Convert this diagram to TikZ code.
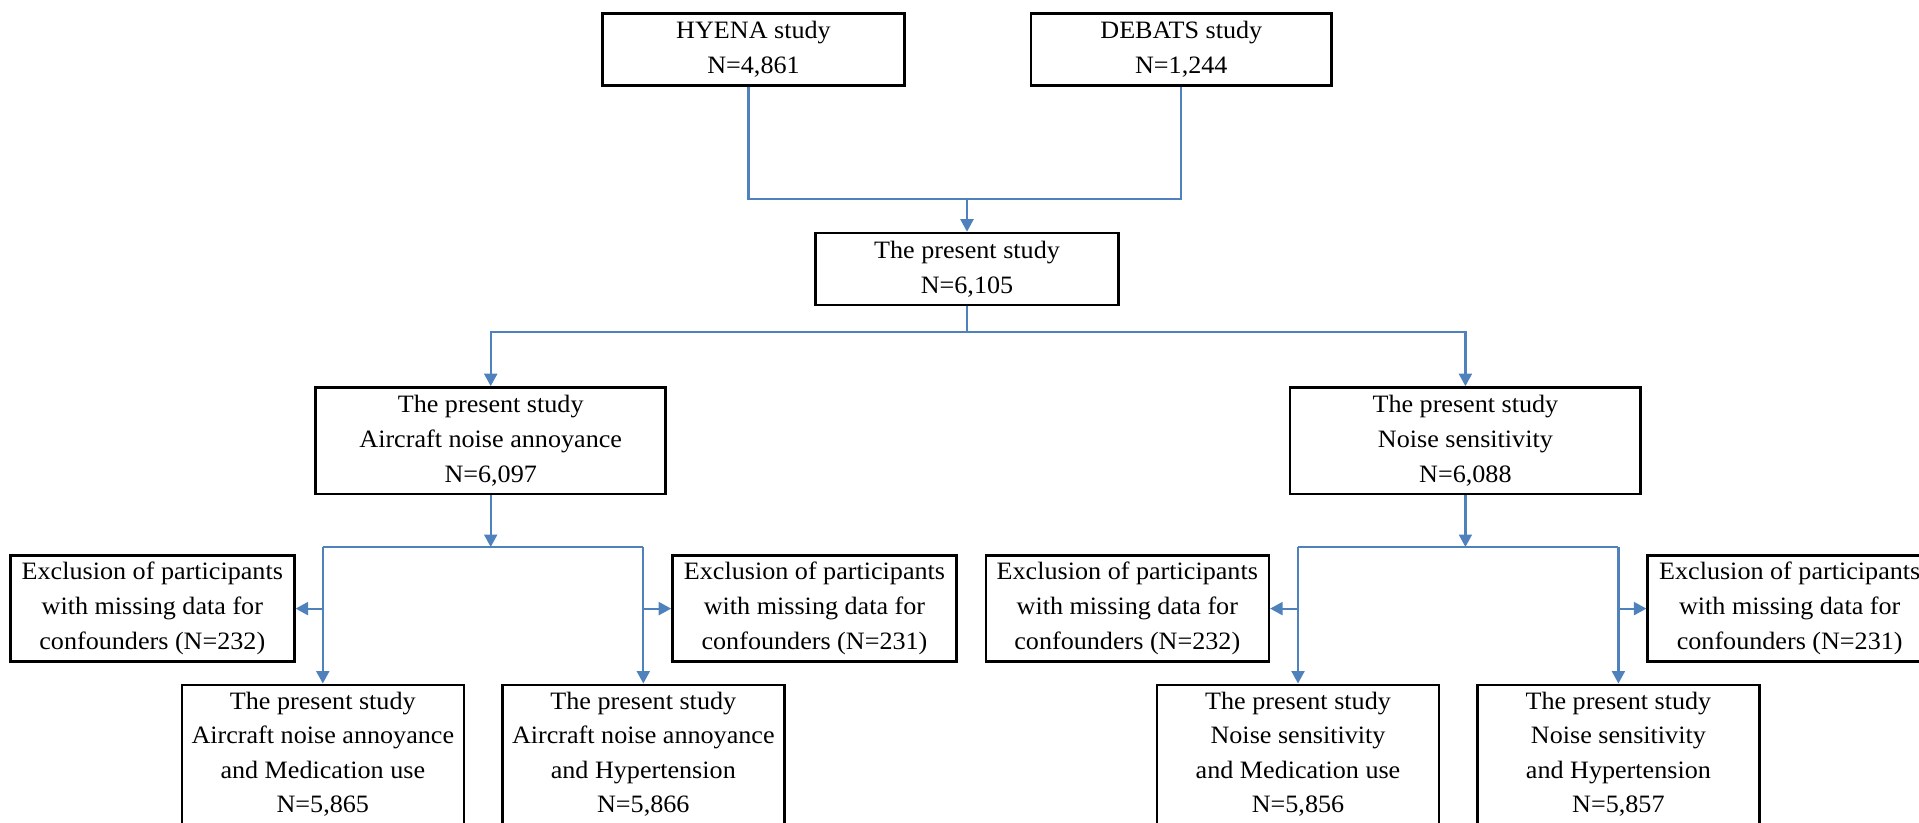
\documentclass[tikz,border=0pt]{standalone}
\usepackage{fontspec}
\setmainfont{Liberation Serif}[FakeStretch=1.045]
\usetikzlibrary{arrows.meta}
\definecolor{connblue}{RGB}{79,129,189}
\newcommand{\btext}[1]{\parbox[c][150pt][t]{282pt}{\centering\fontsize{25}{34.5}\selectfont\rule{0pt}{24.3pt}#1}}
\begin{document}
\begin{tikzpicture}[x=1pt,y=-1pt,
  box/.style={draw=black,line width=2.6pt,align=center,inner sep=0pt,
    font=\fontsize{25}{34.8}\selectfont},
  bbox/.style={draw=black,line width=2.6pt,inner sep=0pt,anchor=north},
  conn/.style={draw=connblue,line width=2.2pt},
  arr/.style={-{Triangle[width=13pt,length=12.5pt]}}]
\useasboundingbox (0,0) rectangle (1919,822);
\clip (0,0) rectangle (1919,822);
% top row
\node[box,minimum width=302pt,minimum height=72pt] (hyena) at (753.5,49.3) {HYENA study\\N=4,861};
\node[box,minimum width=300.6pt,minimum height=72pt] (debats) at (1181.3,49.3) {DEBATS study\\N=1,244};
\node[box,minimum width=302.7pt,minimum height=72pt] (present) at (967,269) {The present study\\N=6,105};
% second row
\node[box,minimum width=350pt,minimum height=106.5pt] (aircraft) at (490.7,440.7) {The present study\\Aircraft noise annoyance\\N=6,097};
\node[box,minimum width=350.7pt,minimum height=106.5pt] (noise) at (1465.4,440.7) {The present study\\Noise sensitivity\\N=6,088};
% exclusion boxes
\node[box,minimum width=284pt,minimum height=106pt] (ex1) at (152.3,608.6) {Exclusion of participants\\with missing data for\\confounders (N=232)};
\node[box,minimum width=284pt,minimum height=106pt] (ex2) at (814.5,608.6) {Exclusion of participants\\with missing data for\\confounders (N=231)};
\node[box,minimum width=283pt,minimum height=106pt] (ex3) at (1127.3,608.6) {Exclusion of participants\\with missing data for\\confounders (N=232)};
\node[box,minimum width=284pt,minimum height=106pt] (ex4) at (1789.7,608.6) {Exclusion of participants\\with missing data for\\confounders (N=231)};
% bottom boxes
\node[bbox] (b1) at (322.8,683.5) {\btext{The present study\\Aircraft noise annoyance\\and Medication use\\N=5,865}};
\node[bbox] (b2) at (643.3,683.5) {\btext{The present study\\Aircraft noise annoyance\\and Hypertension\\N=5,866}};
\node[bbox] (b3) at (1298,683.5) {\btext{The present study\\Noise sensitivity\\and Medication use\\N=5,856}};
\node[bbox] (b4) at (1618.4,683.5) {\btext{The present study\\Noise sensitivity\\and Hypertension\\N=5,857}};
% junctions
\coordinate (j1) at (967,199);
\coordinate (j2) at (967,332);
\coordinate (j3) at (490.7,547);
\coordinate (j4) at (1465.4,547);
% connectors top
\draw[conn] ([xshift=-5pt]hyena.south) |- (j1);
\draw[conn] (debats.south) |- (j1);
\draw[conn,arr] (j1) -- (present.north);
\draw[conn] (present.south) -- (j2);
\draw[conn,arr] (j2) -| (aircraft.north);
\draw[conn,arr] (j2) -| (noise.north);
% left branch
\draw[conn,arr] (aircraft.south) -- (j3);
\draw[conn] (b1.north |- j3) -- (b2.north |- j3);
\draw[conn,arr] (b1.north |- j3) -- (b1.north);
\draw[conn,arr] (b2.north |- j3) -- (b2.north);
\draw[conn,arr] (b1.north |- ex1.east) -- (ex1.east);
\draw[conn,arr] (b2.north |- ex2.west) -- (ex2.west);
% right branch
\draw[conn,arr] (noise.south) -- (j4);
\draw[conn] (b3.north |- j4) -- (b4.north |- j4);
\draw[conn,arr] (b3.north |- j4) -- (b3.north);
\draw[conn,arr] (b4.north |- j4) -- (b4.north);
\draw[conn,arr] (b3.north |- ex3.east) -- (ex3.east);
\draw[conn,arr] (b4.north |- ex4.west) -- (ex4.west);
\end{tikzpicture}
\end{document}
